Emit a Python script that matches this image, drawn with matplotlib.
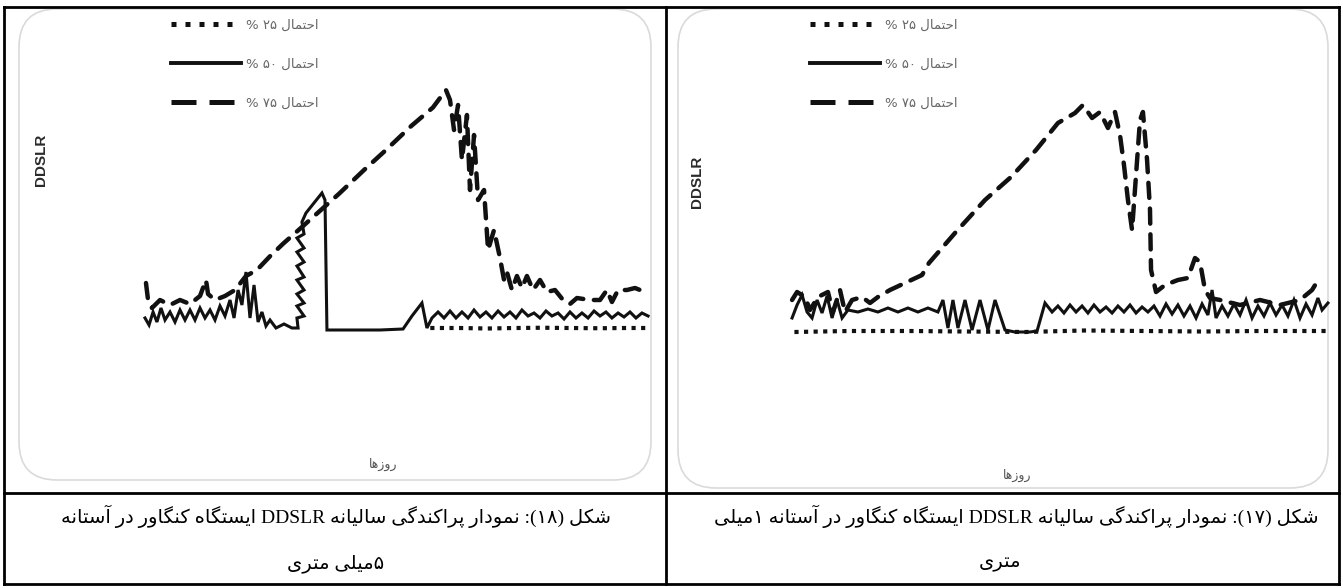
import matplotlib
matplotlib.use('Agg')
import matplotlib.pyplot as plt
from matplotlib.lines import Line2D
from matplotlib.patches import FancyBboxPatch

# ---------------- data (day of year, DDSLR) ----------------
# Figure 18 (left panel, threshold 5 mm)
L_sol_day = [3.6, 6.5, 9.4, 12.2, 15.1, 18.0, 21.6, 25.2, 28.8, 32.4, 36.0, 39.6, 43.2, 46.8, 50.4, 54.0,
             57.6, 61.2, 64.8, 67.7, 70.6, 73.4, 76.3, 79.2, 82.1, 85.0, 87.8, 90.7, 93.6, 97.9, 103.7, 109.4,
             113.8, 113.0, 118.1, 113.0, 118.1, 113.0, 118.1, 113.0, 118.1, 113.0, 118.1, 113.0, 118.1, 113.0,
             118.1, 116.6, 119.5, 131.0, 133.2, 134.6,
             144.0, 158.4, 172.8, 189.4, 195.8, 203.0, 206.6,
             210.2, 214.6, 218.9, 223.2, 227.5, 231.8, 236.2, 240.5, 244.8, 249.1, 253.4, 257.8, 262.1, 266.4,
             270.7, 275.0, 279.4, 283.7, 288.0, 292.3, 296.6, 301.0, 305.3, 309.6, 313.9, 318.2, 322.6, 326.9,
             331.2, 335.5, 339.8, 344.2, 348.5, 352.8, 357.1, 361.4, 365.8]
L_sol_val = [8.8, 6.0, 11.2, 7.2, 12.8, 8.0, 11.2, 7.2, 12.0, 8.0, 12.0, 8.0, 12.8, 8.8, 12.0, 8.0,
             13.6, 9.6, 16.0, 8.8, 20.0, 14.0, 27.2, 8.8, 22.0, 7.2, 11.2, 5.6, 8.0, 4.8, 6.4, 4.8,
             4.8, 8.8, 9.6, 13.6, 14.8, 18.4, 20.0, 24.0, 25.2, 29.6, 31.2, 35.2, 36.8, 40.8,
             42.4, 47.2, 50.8, 58.8, 56.0, 4.0,
             4.0, 4.0, 4.0, 4.4, 9.6, 14.8, 4.8,
             8.8, 11.2, 8.8, 11.6, 8.8, 11.2, 8.8, 12.0, 9.2, 11.2, 8.8, 11.6, 9.2, 11.2,
             8.8, 12.0, 9.6, 10.8, 8.8, 11.6, 9.6, 10.8, 8.4, 11.2, 8.8, 10.8, 8.8, 11.6,
             9.6, 11.2, 8.8, 10.8, 9.2, 11.2, 8.8, 10.8, 9.6]
L_dsh_day = [4.3, 5.8, 8.6, 14.4, 21.6, 28.8, 36.0, 43.2, 47.5, 49.0, 54.0, 61.2, 68.4, 76.3, 84.2, 93.6,
             103.0, 115.2, 143.3, 161.3, 177.1, 195.1, 210.9, 220.3, 223.2, 226.1, 229.0, 231.8, 235.4, 237.6,
             240.5, 243.4, 247.7, 250.6, 254.9, 259.2, 262.1, 264.2, 267.8, 271.4, 275.0, 278.6, 283.0, 288.0,
             293.0, 298.8, 304.6, 309.6, 314.6, 324.0, 331.2, 336.2, 339.8, 344.2, 350.6, 356.4, 360.0, 365.0]
L_dsh_val = [22.8, 16.0, 12.8, 16.0, 14.0, 16.0, 14.4, 17.6, 24.0, 18.4, 16.0, 17.6, 20.0, 25.6, 28.0, 33.5,
             38.5, 44.5, 58.5, 68.0, 76.0, 85.5, 93.0, 100.0, 96.0, 84.0, 94.0, 72.0, 90.0, 60.0,
             82.0, 56.0, 60.0, 36.0, 44.0, 32.8, 24.0, 27.2, 20.0, 25.6, 20.8, 25.6, 20.0, 24.0,
             19.2, 20.0, 16.0, 14.4, 16.8, 16.0, 16.0, 20.0, 15.2, 20.0, 20.0, 20.8, 20.0, 22.8]
L_dot_day = [209, 230, 250, 270, 290, 310, 330, 350, 365]
L_dot_val = [4.8, 4.8, 4.6, 4.8, 4.9, 4.8, 4.7, 4.8, 4.8]

# Figure 17 (right panel, threshold 1 mm)
R_sol_day = [1.4, 4.8, 8.2, 11.6, 15.0, 18.4, 21.8, 25.2, 28.6, 32.0,
             35.4, 39.4, 46.2, 53.0, 59.8, 66.6, 73.4, 80.2, 87.0, 93.8,
             100.6, 104.0, 107.4, 110.8, 114.2, 119.0, 123.8, 129.2, 134.6, 139.4,
             146.2, 153.0, 163.2, 168.0, 173.4, 178.2, 182.2, 186.3, 190.4, 194.5,
             198.6, 202.6, 206.7, 210.8, 214.9, 219.0, 223.0, 227.1, 231.2, 235.3,
             239.4, 243.4, 247.5, 251.6, 255.7, 259.8, 263.8, 267.9, 272.0, 276.1,
             280.2, 284.2, 287.0, 289.7, 293.8, 297.8, 301.9, 306.0, 310.1, 314.2,
             318.2, 322.3, 326.4, 330.5, 334.6, 338.6, 342.7, 346.8, 350.9, 355.0,
             359.0, 361.8, 365.8]
R_sol_val = [8.8, 14.0, 18.0, 11.2, 8.8, 16.0, 10.8, 17.6, 8.8, 16.0,
             8.8, 12.0, 11.2, 12.4, 11.2, 12.8, 11.2, 12.8, 11.2, 12.8,
             11.2, 16.0, 4.8, 16.0, 4.8, 16.0, 4.0, 16.0, 4.0, 16.0,
             4.0, 3.2, 3.2, 3.6, 14.8, 11.2, 13.6, 10.8, 14.0, 11.2,
             13.6, 10.8, 14.0, 11.2, 13.2, 10.8, 13.6, 11.2, 14.0, 10.8,
             13.2, 11.2, 13.6, 9.6, 14.4, 10.4, 14.0, 9.6, 13.6, 8.8,
             14.4, 10.0, 20.0, 8.8, 13.6, 9.6, 14.4, 10.0, 16.0, 8.8,
             13.6, 9.6, 14.8, 10.0, 14.0, 9.6, 16.0, 8.8, 14.4, 10.0,
             16.8, 12.0, 14.8]
R_dsh_day = [1.4, 4.8, 10.2, 13.6, 19.0, 25.8, 29.2, 34.0, 37.4, 42.2,
             49.0, 54.4, 59.8, 68.0, 78.2, 89.8, 94.5, 112.2, 132.6, 150.3,
             167.3, 182.2, 193.8, 199.2, 205.4, 210.8, 216.2, 221.0, 224.4, 227.1,
             229.8, 232.6, 238.0, 240.0, 242.8, 244.8, 245.5, 248.9, 255.0, 263.8,
             270.6, 275.4, 278.8, 282.2, 285.6, 292.4, 306.0, 319.6, 333.2, 346.8,
             355.0, 360.4]
R_dsh_val = [16.0, 19.2, 17.2, 12.0, 17.2, 19.2, 11.2, 20.0, 11.2, 16.0,
             17.2, 14.8, 17.2, 20.0, 22.8, 26.0, 30.8, 42.8, 56.0, 65.2,
             76.0, 86.8, 90.8, 94.0, 88.8, 91.2, 84.8, 91.2, 82.0, 70.0,
             56.0, 44.0, 88.0, 91.2, 72.0, 52.0, 28.0, 19.2, 22.0, 24.0,
             24.8, 32.8, 31.2, 20.0, 16.8, 16.0, 14.0, 16.0, 14.0, 16.0,
             20.0, 25.2]
R_dot_day = [3, 40, 80, 120, 160, 200, 240, 280, 320, 365]
R_dot_val = [3.2, 3.6, 3.6, 3.4, 3.2, 3.8, 3.6, 3.4, 3.6, 3.6]

legend_labels = ['احتمال ۲۵ %', 'احتمال ۵۰ %', 'احتمال ۷۵ %']
y_label = 'DDSLR'
x_label = 'روزها'
cap_left = ['شکل (۱۸): نمودار پراکندگی سالیانه DDSLR ایستگاه کنگاور در آستانه', '۵میلی متری']
cap_right = ['شکل (۱۷): نمودار پراکندگی سالیانه DDSLR ایستگاه کنگاور در آستانه ۱میلی', 'متری']

# ---------------- minimal Arabic-script shaping + RTL ordering ----------------
FORMS = {
    '\u0622': ('\uFE81', '\uFE82', None, None),
    '\u0627': ('\uFE8D', '\uFE8E', None, None),
    '\u062A': ('\uFE95', '\uFE96', '\uFE97', '\uFE98'),
    '\u062D': ('\uFEA1', '\uFEA2', '\uFEA3', '\uFEA4'),
    '\u062F': ('\uFEA9', '\uFEAA', None, None),
    '\u0631': ('\uFEAD', '\uFEAE', None, None),
    '\u0632': ('\uFEAF', '\uFEB0', None, None),
    '\u0633': ('\uFEB1', '\uFEB2', '\uFEB3', '\uFEB4'),
    '\u0634': ('\uFEB5', '\uFEB6', '\uFEB7', '\uFEB8'),
    '\u0644': ('\uFEDD', '\uFEDE', '\uFEDF', '\uFEE0'),
    '\u0645': ('\uFEE1', '\uFEE2', '\uFEE3', '\uFEE4'),
    '\u0646': ('\uFEE5', '\uFEE6', '\uFEE7', '\uFEE8'),
    '\u0647': ('\uFEE9', '\uFEEA', '\uFEEB', '\uFEEC'),
    '\u0648': ('\uFEED', '\uFEEE', None, None),
    '\u067E': ('\uFB56', '\uFB57', '\uFB58', '\uFB59'),
    '\u06A9': ('\uFB8E', '\uFB8F', '\uFB90', '\uFB91'),
    '\u06AF': ('\uFB92', '\uFB93', '\uFB94', '\uFB95'),
    '\u06CC': ('\uFBFC', '\uFBFD', '\uFBFE', '\uFBFF'),
}
LTR = set('ABCDEFGHIJKLMNOPQRSTUVWXYZabcdefghijklmnopqrstuvwxyz0123456789\u06F0\u06F1\u06F2\u06F3\u06F4\u06F5\u06F6\u06F7\u06F8\u06F9')
MIRROR = {'(': ')', ')': '('}


def shape(s):
    out = []
    for i, ch in enumerate(s):
        if ch not in FORMS:
            out.append(ch)
            continue
        iso, fin, ini, med = FORMS[ch]
        prev = s[i - 1] if i > 0 else ''
        nxt = s[i + 1] if i + 1 < len(s) else ''
        jp = prev in FORMS and FORMS[prev][2] is not None
        jn = nxt in FORMS and ini is not None
        if jp and jn:
            out.append(med)
        elif jp:
            out.append(fin)
        elif jn:
            out.append(ini)
        else:
            out.append(iso)
    return ''.join(out)


def visual(s):
    chars = list(shape(s))[::-1]
    out, i = [], 0
    while i < len(chars):
        if chars[i] in LTR:
            j = i
            while j < len(chars) and chars[j] in LTR:
                j += 1
            out.extend(chars[i:j][::-1])
            i = j
        else:
            out.append(MIRROR.get(chars[i], chars[i]))
            i += 1
    return ''.join(out)


# ---------------- figure ----------------
W, H = 1343, 588
fig = plt.figure(figsize=(W / 100, H / 100), dpi=100)
fig.patch.set_facecolor('white')
bg = fig.add_axes([0, 0, 1, 1])
bg.set_xlim(0, W)
bg.set_ylim(H, 0)
bg.axis('off')

# image panels (rounded)
for (x0, y0, x1, y1) in [(19, 9, 651, 480), (678, 9, 1328, 488)]:
    bg.add_patch(FancyBboxPatch((x0, y0), x1 - x0, y1 - y0,
                                boxstyle='round,pad=0,rounding_size=38',
                                fc='white', ec='#dadada', lw=1.2, zorder=1))

# table lines
TL = dict(color='black', lw=2.0, solid_capstyle='projecting', zorder=5)
bg.plot([4, 1339], [7, 7], **TL)
bg.plot([4, 1339], [584, 584], **TL)
bg.plot([4, 4], [7, 584], **TL)
bg.plot([1339, 1339], [7, 584], **TL)
bg.plot([666, 666], [7, 584], **TL)
bg.plot([4, 1339], [493, 493], **TL)

CAPFONT = ['Liberation Serif', 'DejaVu Sans']
CAPSIZE = 14
bg.text(336, 516, visual(cap_left[0]), ha='center', va='center', family=CAPFONT, fontsize=CAPSIZE, color='black')
bg.text(336, 564, visual(cap_left[1]), ha='center', va='center', family=CAPFONT, fontsize=CAPSIZE, color='black')
bg.text(1016, 516, visual(cap_right[0]), ha='center', va='center', family=CAPFONT, fontsize=CAPSIZE, color='black')
bg.text(1000, 564, visual(cap_right[1]), ha='center', va='center', family=CAPFONT, fontsize=CAPSIZE, color='black')

# axis labels
for (x, y) in [(41, 160), (697, 182)]:
    bg.text(x, y, y_label, rotation=90, ha='center', va='center', family='Liberation Sans',
            fontweight='bold', fontsize=11, color='#2a2a2a')
for (x, y) in [(383, 464), (1017, 475)]:
    bg.text(x, y, visual(x_label), ha='center', va='center', family='DejaVu Sans', fontsize=9, color='#555555')

# data axes
BLACK = '#111111'


def data_axes(x0, x1, ytop, ybot):
    ax = fig.add_axes([x0 / W, 1 - ybot / H, (x1 - x0) / W, (ybot - ytop) / H])
    ax.set_xlim(0, 367.2)
    ax.set_ylim(0, 104)
    ax.axis('off')
    ax.patch.set_alpha(0)
    return ax


panels = [
    (data_axes(140, 650, 80, 340), L_dot_day, L_dot_val, L_sol_day, L_sol_val, L_dsh_day, L_dsh_val, 171),
    (data_axes(790, 1330, 80, 340), R_dot_day, R_dot_val, R_sol_day, R_sol_val, R_dsh_day, R_dsh_val, 810),
]
for ax, dd, dv, sd, sv, hd, hv, lx in panels:
    ax.plot(dd, dv, color=BLACK, lw=3.0, linestyle=(0, (1.0, 1.3)), dash_capstyle='butt', clip_on=False)
    ax.plot(sd, sv, color=BLACK, lw=2.2, solid_joinstyle='miter', clip_on=False)
    ax.plot(hd, hv, color=BLACK, lw=3.2, linestyle=(0, (3.4, 2.4)), dash_capstyle='round', clip_on=False)

    handles = [
        Line2D([], [], color=BLACK, lw=3.6, linestyle=(0, (1.0, 1.8)), dash_capstyle='butt'),
        Line2D([], [], color=BLACK, lw=2.8),
        Line2D([], [], color=BLACK, lw=3.6, linestyle=(0, (5.0, 2.6)), dash_capstyle='butt'),
    ]
    ax.legend(handles, [visual(t) for t in legend_labels], loc='upper left',
              bbox_to_anchor=(lx / W, 1 - 19 / H), bbox_transform=fig.transFigure,
              frameon=False, borderpad=0, borderaxespad=0, handlelength=5.3, handletextpad=0.4,
              labelspacing=1.95, prop={'family': 'DejaVu Sans', 'size': 9.5}, labelcolor='#666666')

fig.savefig('out.png', dpi=100, facecolor='white')
